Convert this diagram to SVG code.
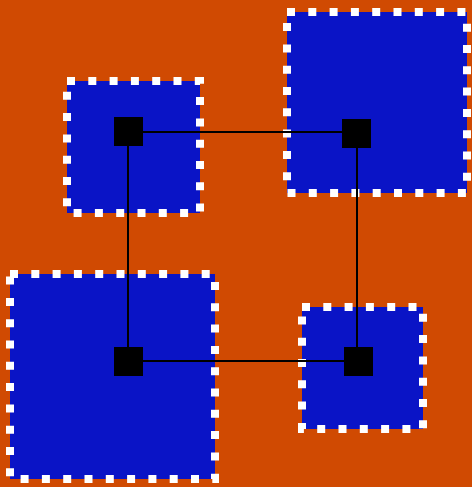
<svg xmlns="http://www.w3.org/2000/svg" width="472" height="487" viewBox="0 0 472 487">
<style>
.sq{fill:#0a14c6;stroke:#ffffff;stroke-width:8;stroke-dasharray:8 13.3}
.node{fill:#000000}
.edge{stroke:#000000;stroke-width:2;fill:none}
</style>
<rect x="0" y="0" width="472" height="487" fill="#d04a02"/>
<g id="square-tl"><rect class="sq" x="67" y="81" width="133" height="132"/></g>
<g id="square-tr"><rect class="sq" x="287" y="12" width="180" height="181"/></g>
<g id="square-bl"><rect class="sq" x="10" y="274" width="205" height="205"/></g>
<g id="square-br"><rect class="sq" x="302" y="307" width="121" height="122"/></g>
<g id="connectors">
<line class="edge" x1="128" y1="132" x2="357" y2="132"/>
<line class="edge" x1="128" y1="132" x2="128" y2="361"/>
<line class="edge" x1="128" y1="361" x2="357" y2="361"/>
<line class="edge" x1="357" y1="132" x2="357" y2="361"/>
</g>
<g id="node-tl"><rect class="node" x="114" y="117" width="29" height="29"/></g>
<g id="node-tr"><rect class="node" x="342" y="119" width="29" height="29"/></g>
<g id="node-bl"><rect class="node" x="114" y="347" width="29" height="29"/></g>
<g id="node-br"><rect class="node" x="344" y="347" width="29" height="29"/></g>
</svg>
